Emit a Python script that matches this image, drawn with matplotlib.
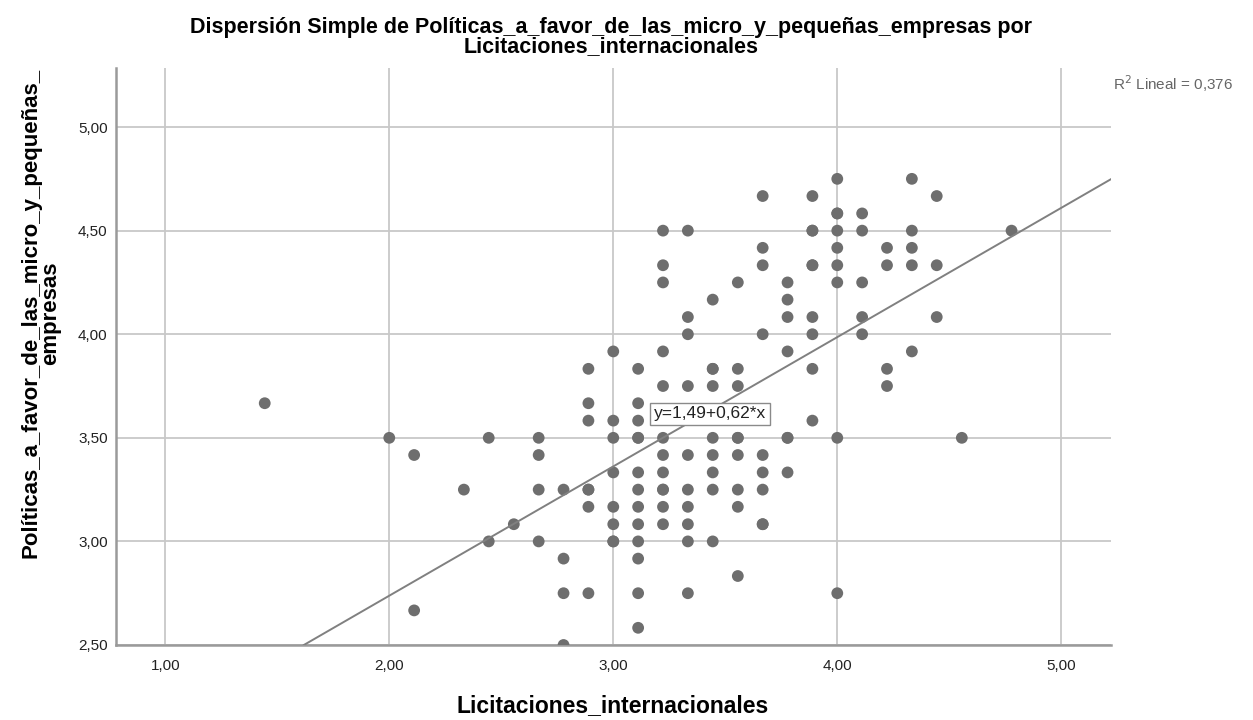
import matplotlib
matplotlib.use("Agg")
import matplotlib.pyplot as plt
import numpy as np

# Data (x on 1/9 grid, y on 1/12 grid)
x_vals = [
    1.444, 2.000, 2.111, 2.111, 2.333, 2.444, 2.444, 2.556,
    2.667, 2.667, 2.667, 2.667,
    2.778, 2.778, 2.778, 2.778,
    2.889, 2.889, 2.889, 2.889, 2.889, 2.889, 2.889,
    3.000, 3.000, 3.000, 3.000, 3.000, 3.000, 3.000, 3.000,
    3.111, 3.111, 3.111, 3.111, 3.111, 3.111, 3.111, 3.111, 3.111, 3.111, 3.111, 3.111, 3.111,
    3.222, 3.222, 3.222, 3.222, 3.222, 3.222, 3.222, 3.222, 3.222, 3.222, 3.222, 3.222,
    3.333, 3.333, 3.333, 3.333, 3.333, 3.333, 3.333, 3.333, 3.333, 3.333,
    3.444, 3.444, 3.444, 3.444, 3.444, 3.444, 3.444, 3.444, 3.444,
    3.556, 3.556, 3.556, 3.556, 3.556, 3.556, 3.556, 3.556, 3.556,
    3.667, 3.667, 3.667, 3.667, 3.667, 3.667, 3.667, 3.667, 3.667,
    3.778, 3.778, 3.778, 3.778, 3.778, 3.778, 3.778,
    3.889, 3.889, 3.889, 3.889, 3.889, 3.889, 3.889, 3.889, 3.889,
    4.000, 4.000, 4.000, 4.000, 4.000, 4.000, 4.000, 4.000, 4.000,
    4.111, 4.111, 4.111, 4.111, 4.111,
    4.222, 4.222, 4.222, 4.222,
    4.333, 4.333, 4.333, 4.333, 4.333,
    4.444, 4.444, 4.444,
    4.556, 4.778,
]
y_vals = [
    3.667, 3.500, 3.417, 2.667, 3.250, 3.500, 3.000, 3.083,
    3.500, 3.417, 3.250, 3.000,
    3.250, 2.917, 2.750, 2.500,
    3.833, 3.667, 3.583, 3.250, 3.167, 2.750, 3.250,
    3.917, 3.583, 3.500, 3.333, 3.167, 3.083, 3.000, 3.000,
    3.833, 3.667, 3.583, 3.500, 3.333, 3.250, 3.167, 3.083, 3.000, 2.917, 2.750, 2.583, 3.500,
    4.500, 4.333, 4.250, 3.917, 3.750, 3.500, 3.417, 3.333, 3.250, 3.167, 3.083, 3.250,
    4.500, 4.083, 4.000, 3.750, 3.417, 3.250, 3.167, 3.083, 3.000, 2.750,
    4.167, 3.833, 3.750, 3.500, 3.417, 3.333, 3.250, 3.000, 3.833,
    4.250, 3.833, 3.750, 3.500, 3.417, 3.250, 3.167, 2.833, 3.500,
    4.667, 4.417, 4.333, 4.000, 3.417, 3.333, 3.250, 3.083, 3.083,
    4.250, 4.167, 4.083, 3.917, 3.500, 3.333, 3.500,
    4.667, 4.500, 4.333, 4.083, 4.000, 3.833, 3.583, 4.500, 4.333,
    4.750, 4.583, 4.500, 4.417, 4.333, 4.250, 3.500, 2.750, 4.583,
    4.583, 4.500, 4.250, 4.083, 4.000,
    4.417, 4.333, 3.833, 3.750,
    4.750, 4.500, 4.417, 4.333, 3.917,
    4.667, 4.333, 4.083,
    3.500, 4.500,
]

fit_intercept = 1.49
fit_slope = 0.624
r2_value = "0,376"

x_ticks = [1.0, 2.0, 3.0, 4.0, 5.0]
x_tick_labels = ["1,00", "2,00", "3,00", "4,00", "5,00"]
y_ticks = [2.5, 3.0, 3.5, 4.0, 4.5, 5.0]
y_tick_labels = ["2,50", "3,00", "3,50", "4,00", "4,50", "5,00"]

title = "Dispersión Simple de Políticas_a_favor_de_las_micro_y_pequeñas_empresas por\nLicitaciones_internacionales"
x_label = "Licitaciones_internacionales"
y_label = "Políticas_a_favor_de_las_micro_y_pequeñas_\nempresas"

plt.rcParams['font.family'] = ['Liberation Sans', 'DejaVu Sans']

fig = plt.figure(figsize=(12.53, 7.2), dpi=100)
ax = fig.add_axes([116 / 1253, 1 - 645 / 720, (1111 - 116) / 1253, (645 - 68) / 720])

xlim = (0.78, 5.222)
ylim = (2.5, 5.285)
ax.set_xlim(*xlim)
ax.set_ylim(*ylim)

ax.set_xticks(x_ticks)
ax.set_xticklabels(x_tick_labels)
ax.set_yticks(y_ticks)
ax.set_yticklabels(y_tick_labels)
ax.tick_params(axis='both', length=0, labelsize=11, colors='#222222')
ax.tick_params(axis='y', pad=6)
ax.tick_params(axis='x', pad=10)

ax.grid(True, color='#c8c8c8', linewidth=1.3, zorder=0)
ax.set_axisbelow(True)

for side in ['top', 'right']:
    ax.spines[side].set_visible(False)
for side in ['left', 'bottom']:
    ax.spines[side].set_color('#9a9a9a')
    ax.spines[side].set_linewidth(1.8)

ax.scatter(x_vals, y_vals, s=72, color='#6e6e6e', edgecolors='none', zorder=3)

# Regression line
x_start = (ylim[0] - fit_intercept) / fit_slope
xl = np.array([x_start, xlim[1]])
ax.plot(xl, fit_intercept + fit_slope * xl, color='#808080', linewidth=1.4, zorder=4)

ax.text(3.43, 3.615, "y=1,49+0,62*x", fontsize=12.5, color='#222222', ha='center', va='center',
        zorder=5, bbox=dict(boxstyle='square,pad=0.22', facecolor='white', edgecolor='#8a8a8a', linewidth=1))

fig.text(1113 / 1253, 1 - 84 / 720, "R$^2$ Lineal = " + r2_value, fontsize=11, color='#666666',
         ha='left', va='center')

fig.text(611 / 1253, 1 - 37 / 720, title, fontsize=15.5, fontweight='bold', ha='center', va='center',
         linespacing=0.9)
fig.text(613 / 1253, 1 - 706 / 720, x_label, fontsize=16.5, fontweight='bold', ha='center', va='center')
fig.text(41 / 1253, 1 - 313 / 720, y_label, fontsize=16, fontweight='bold', ha='center', va='center',
         rotation=90, linespacing=0.9)

fig.savefig("out.png", dpi=100)
